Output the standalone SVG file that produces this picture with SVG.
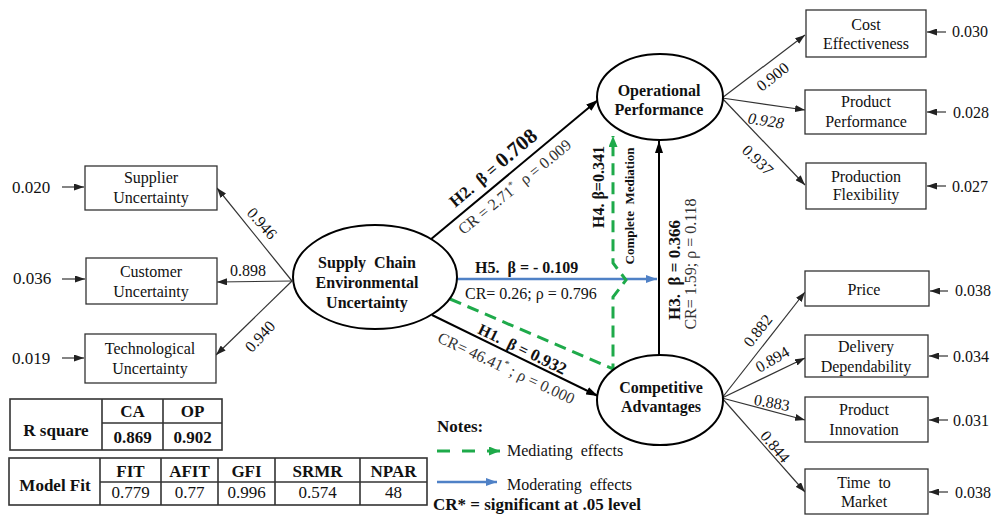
<svg xmlns="http://www.w3.org/2000/svg" width="993" height="518" viewBox="0 0 993 518" font-family="'Liberation Serif', 'Times New Roman', 'DejaVu Serif', serif">
<style>
text{fill:#111;}
.t16{font-size:16px;}
.t17{font-size:17px;}
.b16{font-size:16px;font-weight:bold;}
.b17{font-size:17px;font-weight:bold;}
.mid{text-anchor:middle;}
.box{fill:#fff;stroke:#333;stroke-width:1.3;}
.ell{fill:#fff;stroke:#000;stroke-width:2;}
.ml{stroke:#333;stroke-width:1.2;fill:none;}
.main{stroke:#000;stroke-width:2;fill:none;}
.gr{stroke:#1eaa4a;stroke-width:3;fill:none;stroke-dasharray:12 7;}
.bl{stroke:#4f81c6;stroke-width:2.5;fill:none;}
.tb{fill:none;stroke:#333;stroke-width:1.6;}
.cr{fill:#333;}
</style>
<defs>
<marker id="aS" viewBox="0 0 10 7" refX="10" refY="3.5" markerWidth="10" markerHeight="7" orient="auto" markerUnits="userSpaceOnUse"><path d="M0,0 L10,3.5 L0,7 z" fill="#222"/></marker>
<marker id="aB" viewBox="0 0 12 8" refX="12" refY="4" markerWidth="12" markerHeight="8" orient="auto" markerUnits="userSpaceOnUse"><path d="M0,0 L12,4 L0,8 z" fill="#000"/></marker>
<marker id="aG" viewBox="0 0 11 9" refX="11" refY="4.5" markerWidth="11" markerHeight="9" orient="auto" markerUnits="userSpaceOnUse"><path d="M0,0 L11,4.5 L0,9 z" fill="#1eaa4a"/></marker>
<marker id="aL" viewBox="0 0 11 8" refX="11" refY="4" markerWidth="11" markerHeight="8" orient="auto" markerUnits="userSpaceOnUse"><path d="M0,0 L11,4 L0,8 z" fill="#4f81c6"/></marker>
</defs>

<g id="connectors">
<line class="ml" x1="62" y1="187" x2="84" y2="187" marker-end="url(#aS)"/>
<line class="ml" x1="62" y1="279" x2="85" y2="279" marker-end="url(#aS)"/>
<line class="ml" x1="62" y1="358" x2="84" y2="358" marker-end="url(#aS)"/>
<line class="ml" x1="946" y1="32" x2="927" y2="32" marker-end="url(#aS)"/>
<line class="ml" x1="946" y1="112" x2="927" y2="112" marker-end="url(#aS)"/>
<line class="ml" x1="946" y1="186" x2="927" y2="186" marker-end="url(#aS)"/>
<line class="ml" x1="948" y1="291" x2="930" y2="291" marker-end="url(#aS)"/>
<line class="ml" x1="948" y1="356" x2="929" y2="356" marker-end="url(#aS)"/>
<line class="ml" x1="948" y1="420" x2="929" y2="420" marker-end="url(#aS)"/>
<line class="ml" x1="948" y1="492" x2="929" y2="492" marker-end="url(#aS)"/>
<line class="ml" x1="292" y1="281" x2="217" y2="188" marker-end="url(#aS)"/>
<line class="ml" x1="292" y1="281" x2="217" y2="282" marker-end="url(#aS)"/>
<line class="ml" x1="292" y1="281" x2="216" y2="355" marker-end="url(#aS)"/>
<line class="ml" x1="722" y1="98" x2="805" y2="35" marker-end="url(#aS)"/>
<line class="ml" x1="722" y1="98" x2="805" y2="110" marker-end="url(#aS)"/>
<line class="ml" x1="722" y1="98" x2="805" y2="185" marker-end="url(#aS)"/>
<line class="ml" x1="722" y1="398" x2="805" y2="292" marker-end="url(#aS)"/>
<line class="ml" x1="722" y1="398" x2="805" y2="358" marker-end="url(#aS)"/>
<line class="ml" x1="722" y1="398" x2="805" y2="420" marker-end="url(#aS)"/>
<line class="ml" x1="722" y1="398" x2="805" y2="492" marker-end="url(#aS)"/>
<line class="main" x1="430" y1="240" x2="598" y2="100" marker-end="url(#aB)"/>
<line class="main" x1="432" y1="315" x2="598" y2="396" marker-end="url(#aB)"/>
<line class="main" x1="659" y1="355" x2="659" y2="141" marker-end="url(#aB)"/>
<line class="bl" x1="455" y1="279" x2="657" y2="279" marker-end="url(#aL)"/>
<path class="gr" d="M450,299 L613,369 L613,297 L626,280 L613,263 L613,136" marker-end="url(#aG)"/>
</g>

<g id="loading-labels">
<text class="t16 mid" transform="translate(258,227) rotate(48)">0.946</text>
<text class="t16 mid" x="248" y="276">0.898</text>
<text class="t16 mid" transform="translate(264,340) rotate(-47)">0.940</text>
<text class="t16 mid" transform="translate(776,81) rotate(-38)">0.900</text>
<text class="t16 mid" font-style="italic" transform="translate(765,126) rotate(9)">0.928</text>
<text class="t16 mid" transform="translate(754,164) rotate(44)">0.937</text>
<text class="t16 mid" transform="translate(762,334) rotate(-52)">0.882</text>
<text class="t16 mid" transform="translate(775,364) rotate(-30)">0.894</text>
<text class="t16 mid" transform="translate(771,408) rotate(10)">0.883</text>
<text class="t16 mid" transform="translate(771,450) rotate(50)">0.844</text>
</g>

<g id="errors">
<text class="t17" x="12" y="193">0.020</text>
<text class="t17" x="13" y="284">0.036</text>
<text class="t17" x="12" y="364">0.019</text>
<text class="t16" x="952" y="37">0.030</text>
<text class="t16" x="953" y="118">0.028</text>
<text class="t16" x="952" y="192">0.027</text>
<text class="t16" x="955" y="296">0.038</text>
<text class="t16" x="953" y="362">0.034</text>
<text class="t16" x="953" y="426">0.031</text>
<text class="t16" x="955" y="498">0.038</text>
</g>

<g id="path-labels">
<text class="b17 mid" transform="translate(497,173) rotate(-40)">H2.&#160; β = <tspan font-size="21">0.708</tspan></text>
<text class="t16 mid cr" transform="translate(518,191) rotate(-39)">CR = 2.71<tspan font-size="10" dy="-6">*</tspan><tspan dy="6">&#160; ρ = 0.009</tspan></text>
<text class="b16" x="475" y="273">H5.&#160; β = - 0.109</text>
<text class="t16" x="465" y="299">CR= 0.26; ρ = 0.796</text>
<text class="b16 mid" transform="translate(520,354) rotate(26)">H1.&#160; β = <tspan font-size="17">0.932</tspan></text>
<text class="t16 mid cr" transform="translate(504,373) rotate(25)">CR= 46.41<tspan font-size="10" dy="-6">*</tspan><tspan dy="6"> ; ρ = 0.000</tspan></text>
<text class="b17 mid" transform="translate(680,270) rotate(-90)">H3.&#160; β = 0.366</text>
<text class="t16 mid cr" transform="translate(696,264) rotate(-90)">CR= 1.59; ρ = 0.118</text>
<text class="b16 mid" transform="translate(604,187) rotate(-90)">H4. β=0.341</text>
<text class="mid" font-size="13" font-weight="bold" transform="translate(634,206) rotate(-90)">Complete&#160; Mediation</text>
</g>

<g id="node-sceu">
<ellipse class="ell" cx="375" cy="277" rx="82" ry="52"/>
<text class="b16 mid" x="367" y="268">Supply&#160; Chain</text>
<text class="b16 mid" x="367" y="288">Environmental</text>
<text class="b16 mid" x="367" y="308">Uncertainty</text>
</g>
<g id="node-op">
<ellipse class="ell" cx="660" cy="97" rx="63" ry="43"/>
<text class="b16 mid" x="659" y="96">Operational</text>
<text class="b16 mid" x="659" y="115">Performance</text>
</g>
<g id="node-ca">
<ellipse class="ell" cx="660" cy="400" rx="63" ry="45"/>
<text class="b16 mid" x="661" y="393">Competitive</text>
<text class="b16 mid" x="661" y="412">Advantages</text>
</g>

<g id="node-supplier">
<rect class="box" x="85" y="166" width="132" height="44"/>
<text class="t16 mid" x="151" y="183">Supplier</text>
<text class="t16 mid" x="151" y="203">Uncertainty</text>
</g>
<g id="node-customer">
<rect class="box" x="86" y="258" width="131" height="46"/>
<text class="t16 mid" x="151" y="277">Customer</text>
<text class="t16 mid" x="151" y="297">Uncertainty</text>
</g>
<g id="node-technological">
<rect class="box" x="85" y="334" width="131" height="49"/>
<text class="t16 mid" x="150" y="354">Technological</text>
<text class="t16 mid" x="150" y="374">Uncertainty</text>
</g>

<g id="node-cost">
<rect class="box" x="806" y="10" width="120" height="47"/>
<text class="t16 mid" x="866" y="30">Cost</text>
<text class="t16 mid" x="866" y="49">Effectiveness</text>
</g>
<g id="node-prodperf">
<rect class="box" x="805" y="90" width="121" height="44"/>
<text class="t16 mid" x="866" y="107">Product</text>
<text class="t16 mid" x="866" y="127">Performance</text>
</g>
<g id="node-prodflex">
<rect class="box" x="806" y="163" width="120" height="46"/>
<text class="t16 mid" x="866" y="182">Production</text>
<text class="t16 mid" x="866" y="200">Flexibility</text>
</g>
<g id="node-price">
<rect class="box" x="805" y="271" width="124" height="35"/>
<text class="t16 mid" x="864" y="295">Price</text>
</g>
<g id="node-delivery">
<rect class="box" x="805" y="335" width="123" height="42"/>
<text class="t16 mid" x="866" y="352">Delivery</text>
<text class="t16 mid" x="866" y="372">Dependability</text>
</g>
<g id="node-innovation">
<rect class="box" x="805" y="397" width="123" height="45"/>
<text class="t16 mid" x="864" y="415">Product</text>
<text class="t16 mid" x="864" y="435">Innovation</text>
</g>
<g id="node-time">
<rect class="box" x="805" y="469" width="123" height="45"/>
<text class="t16 mid" x="864" y="488">Time&#160; to</text>
<text class="t16 mid" x="864" y="507">Market</text>
</g>

<g id="table-rsquare">
<rect class="tb" x="10" y="399" width="212" height="51"/>
<line class="tb" x1="102" y1="399" x2="102" y2="450"/>
<line class="tb" x1="163" y1="399" x2="163" y2="450"/>
<line class="tb" x1="102" y1="423" x2="222" y2="423"/>
<text class="b17 mid" x="56" y="436">R square</text>
<text class="b17 mid" x="132.5" y="417">CA</text>
<text class="b17 mid" x="192.5" y="417">OP</text>
<text class="b17 mid" x="132.5" y="443">0.869</text>
<text class="b17 mid" x="192.5" y="443">0.902</text>
</g>

<g id="table-modelfit">
<rect class="tb" x="9" y="458" width="418" height="47"/>
<line class="tb" x1="100" y1="458" x2="100" y2="505"/>
<line class="tb" x1="161" y1="458" x2="161" y2="505"/>
<line class="tb" x1="218" y1="458" x2="218" y2="505"/>
<line class="tb" x1="275" y1="458" x2="275" y2="505"/>
<line class="tb" x1="360" y1="458" x2="360" y2="505"/>
<line class="tb" x1="100" y1="482" x2="427" y2="482"/>
<text class="b17 mid" x="55" y="491">Model Fit</text>
<text class="b17 mid" x="130.5" y="477">FIT</text>
<text class="b17 mid" x="189.5" y="477">AFIT</text>
<text class="b17 mid" x="246.5" y="477">GFI</text>
<text class="b17 mid" x="317.5" y="477">SRMR</text>
<text class="b17 mid" x="393.5" y="477">NPAR</text>
<text class="t17 mid" x="130.5" y="498">0.779</text>
<text class="t17 mid" x="189.5" y="498">0.77</text>
<text class="t17 mid" x="246.5" y="498">0.996</text>
<text class="t17 mid" x="317.5" y="498">0.574</text>
<text class="t17 mid" x="393.5" y="498">48</text>
</g>

<g id="legend">
<text class="b17" x="437" y="432">Notes:</text>
<line x1="437" y1="451" x2="500" y2="451" stroke="#1eaa4a" stroke-width="3" stroke-dasharray="13 12" marker-end="url(#aG)"/>
<text class="t16" x="507" y="456">Mediating&#160; effects</text>
<line x1="437" y1="482" x2="497" y2="482" stroke="#4f81c6" stroke-width="2.5" marker-end="url(#aL)"/>
<text class="t16" x="507" y="490">Moderating&#160; effects</text>
<text class="b17" x="433" y="510">CR* = significant at .05 level</text>
</g>
</svg>
